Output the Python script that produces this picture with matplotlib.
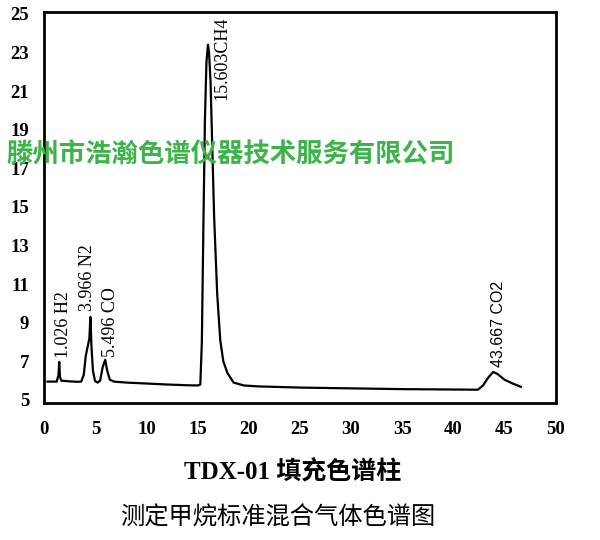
import matplotlib
matplotlib.use("Agg")
import matplotlib.pyplot as plt

# trace (time / min, signal / mV)
t = [0.3, 1.0, 1.2, 1.38, 1.45, 1.52, 1.65, 2.5, 3.3, 3.6, 3.85, 4.05, 4.25, 4.4, 4.5,
     4.6, 4.75, 4.95, 5.2, 5.45, 5.7, 5.95, 6.15, 6.4, 6.8, 8.0, 10.0, 12.0, 14.0,
     15.0, 15.25, 15.4, 15.55, 15.7, 15.85, 16.0, 16.1, 16.25, 16.4, 16.6, 16.9, 17.2,
     17.5, 17.9, 18.5, 19.5, 21.0, 25.0, 30.0, 35.0, 40.0, 42.4, 42.9, 43.4, 43.9,
     44.3, 45.0, 45.8, 46.6]
s = [5.95, 5.95, 5.95, 6.3, 6.97, 6.2, 6.0, 5.96, 5.94, 5.95, 6.3, 7.3, 7.8, 8.2, 9.3,
     7.8, 6.5, 5.98, 5.9, 6.0, 6.7, 7.08, 6.5, 6.05, 5.95, 5.9, 5.85, 5.8, 5.76,
     5.75, 5.8, 8.0, 14.0, 19.5, 22.5, 23.4, 23.0, 21.5, 18.5, 14.5, 10.5, 8.1,
     7.0, 6.4, 5.9, 5.75, 5.7, 5.64, 5.6, 5.56, 5.54, 5.53, 5.75, 6.15, 6.45,
     6.35, 6.05, 5.85, 5.68]

peak_lbl = ["1.026 H2", "3.966 N2", "5.496 CO", "15.603CH4", "43.667 CO2"]
lbl_x = [1.9, 4.2, 6.5, 17.4, 44.4]
lbl_y = [7.15, 9.6, 7.25, 24.85, 6.7]

xt = list(range(0, 51, 5))
yt = list(range(5, 26, 2))

fig = plt.figure(figsize=(6, 5.4), dpi=100)
ax = fig.add_axes([0.074, 0.254, 0.852, 0.724])
ax.plot(t, s, c="black", lw=1.6)
ax.set_xlim(0, 50); ax.set_ylim(4.85, 25.1)
ax.set_xticks(xt); ax.set_yticks(yt)
ax.tick_params(length=0, labelsize=13.5)
ax.tick_params(axis="x", pad=13); ax.tick_params(axis="y", pad=11)
for lab in ax.get_xticklabels() + ax.get_yticklabels():
    lab.set_family("Liberation Serif"); lab.set_weight("bold")
for sp in ax.spines.values():
    sp.set_linewidth(2)

for i, (lb, x, y) in enumerate(zip(peak_lbl, lbl_x, lbl_y)):
    fam = "Liberation Sans" if i == 4 else "Liberation Serif"
    va = "top" if i == 3 else "bottom"
    fs = 11.5 if i == 4 else 13
    ax.text(x, y, lb, rotation=90, ha="center", va=va, fontsize=fs, family=fam)

# 水印
fig.text(0.385, 0.713, "滕州市浩瀚色谱仪器技术服务有限公司", ha="center", va="center",
         fontsize=19, color="#3cb44a", weight="bold", family="Noto Sans CJK SC")

fig.text(0.488, 0.126, "TDX-01 填充色谱柱", ha="center", va="center", fontsize=18,
         weight="bold", family=["Liberation Serif", "Noto Sans CJK SC"])
fig.text(0.463, 0.041, "测定甲烷标准混合气体色谱图", ha="center", va="center",
         fontsize=17.5, family=["Noto Sans CJK SC"])

fig.savefig("out.png", dpi=100)
